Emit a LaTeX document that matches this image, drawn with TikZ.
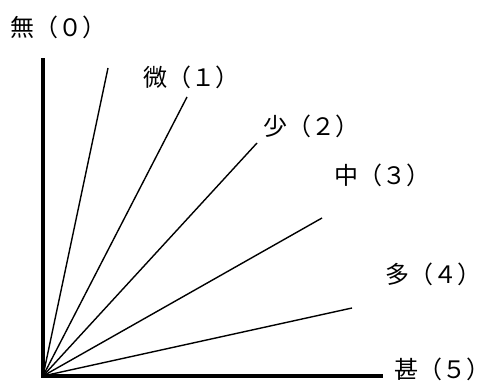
\documentclass[tikz,border=0pt]{standalone}
\usepackage{fontspec}
\newfontfamily\cjk{Noto Sans CJK JP}
\begin{document}
\begin{tikzpicture}[x=1pt,y=-1pt,
  axis/.style={line width=4pt},
  ray/.style={line width=1.4pt},
  lbl/.style={anchor=west,inner sep=0pt,font=\cjk\fontsize{24}{24}\selectfont}]
\useasboundingbox (0,0) rectangle (491,385);
\coordinate (O) at (43,376);
\coordinate (Ytop) at (43,60);
\coordinate (Xend) at (381,376);
\coordinate (E1) at (108,68);
\coordinate (E2) at (187,97);
\coordinate (E3) at (257,143);
\coordinate (E4) at (322,218);
\coordinate (E5) at (352,308);
\draw[axis,line cap=rect] (Ytop) -- (O) -- (Xend);
\foreach \e in {E1,E2,E3,E4,E5} \draw[ray] (O) -- (\e);
\node[lbl] (L0) at (10,27) {無（０）};
\node[lbl] (L1) at (143,77) {微（１）};
\node[lbl] (L2) at (263,126) {少（２）};
\node[lbl] (L3) at (334,175) {中（３）};
\node[lbl] (L4) at (385,274) {多（４）};
\node[lbl] (L5) at (394,369) {甚（５）};
\end{tikzpicture}
\end{document}
